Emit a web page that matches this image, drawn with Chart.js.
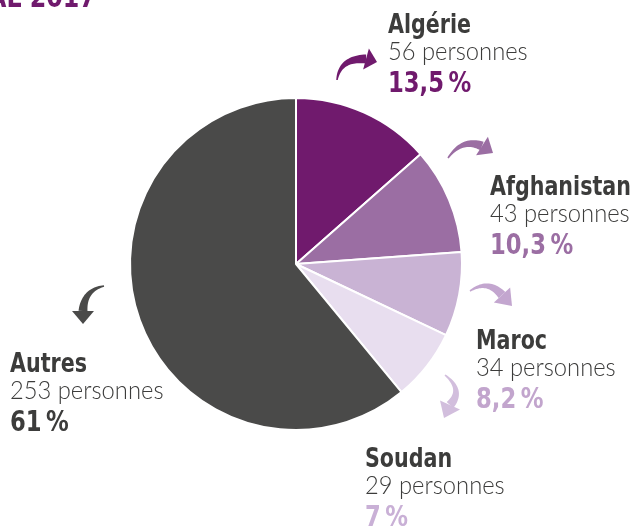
<!DOCTYPE html>
<html lang="fr">
<head>
<meta charset="utf-8">
<title>Répartition par nationalité</title>
<script src="https://cdn.jsdelivr.net/npm/chart.js@4.4.0/dist/chart.umd.min.js"></script>
<style>
  html, body { margin: 0; padding: 0; background: #ffffff; }
  #wrap { position: relative; width: 636px; height: 529px; overflow: hidden; }
</style>
</head>
<body>
<div id="wrap"><canvas id="pieChart"></canvas></div>
<script>
// nationalités, nombre de personnes, pourcentages affichés
const pays = ['Algérie', 'Afghanistan', 'Maroc', 'Soudan', 'Autres'];
const personnes = [56, 43, 34, 29, 253];
const pourcents = ['13,5\u202F%', '10,3\u202F%', '8,2\u202F%', '7\u202F%', '61\u202F%'];

const couleurs = ['#701a6d', '#9b6ea3', '#c9b3d4', '#e8deef', '#4a4a49'];
const couleursPct = ['#701a6d', '#9b6ea3', '#c2a5cd', '#c9b0d6', '#3c3c3b'];
const couleursFleche = ['#701a6d', '#9b6ea3', '#c3a6cf', '#d2bedd', '#4a4a49'];

const FONT = "'DejaVu Sans Condensed', 'Liberation Sans Narrow', sans-serif";
const LIGHT = "Lato, 'DejaVu Sans Condensed', sans-serif";
const TEXTE = '#3c3c3b';

// position des blocs de texte (x, ligne de base du nom) et des flèches
const blocs = [
    { x: 388, y: 33 },
    { x: 490, y: 195 },
    { x: 476, y: 349 },
    { x: 365, y: 467 },
    { x: 10,  y: 372 }
];
const fleches = [
    { tail: [337, 80],  ctrl: [340, 58],  end: [366, 59],  tip: [377, 62] },
    { tail: [448, 158], ctrl: [462, 138], end: [482, 146], tip: [493, 153] },
    { tail: [470, 291], ctrl: [488, 279], end: [502, 295], tip: [512, 306] },
    { tail: [445, 375], ctrl: [464, 390], end: [450, 405], tip: [444, 418] },
    { tail: [104, 286], ctrl: [84, 290],  end: [83, 311],  tip: [83, 324] }
];

function bez(p0, p1, p2, t) {
    const u = 1 - t;
    return [u*u*p0[0] + 2*u*t*p1[0] + t*t*p2[0], u*u*p0[1] + 2*u*t*p1[1] + t*t*p2[1]];
}

function drawArrow(ctx, f, color) {
    const N = 24;
    const left = [], right = [];
    for (let i = 0; i <= N; i++) {
        const t = i / N;
        const p = bez(f.tail, f.ctrl, f.end, t);
        const a = bez(f.tail, f.ctrl, f.end, Math.max(0, t - 0.01));
        const b = bez(f.tail, f.ctrl, f.end, Math.min(1, t + 0.01));
        let dx = b[0] - a[0], dy = b[1] - a[1];
        const len = Math.hypot(dx, dy) || 1;
        dx /= len; dy /= len;
        const w = (1.5 + 7.5 * t) / 2;
        left.push([p[0] - dy * w, p[1] + dx * w]);
        right.push([p[0] + dy * w, p[1] - dx * w]);
    }
    ctx.fillStyle = color;
    ctx.beginPath();
    ctx.moveTo(left[0][0], left[0][1]);
    left.forEach(p => ctx.lineTo(p[0], p[1]));
    right.reverse().forEach(p => ctx.lineTo(p[0], p[1]));
    ctx.closePath();
    ctx.fill();

    // pointe
    let dx = f.tip[0] - f.end[0], dy = f.tip[1] - f.end[1];
    const l = Math.hypot(dx, dy);
    dx /= l; dy /= l;
    const hw = 11;
    ctx.beginPath();
    ctx.moveTo(f.end[0] - dy * hw, f.end[1] + dx * hw);
    ctx.lineTo(f.tip[0], f.tip[1]);
    ctx.lineTo(f.end[0] + dy * hw, f.end[1] - dx * hw);
    ctx.closePath();
    ctx.fill();
}

// texte resserré horizontalement (police condensée)
function txt(ctx, s, x, y, sx) {
    ctx.save();
    ctx.translate(x, y);
    ctx.scale(sx, 1);
    ctx.fillText(s, 0, 0);
    ctx.restore();
}

const etiquettes = {
    id: 'etiquettes',
    afterDraw(chart) {
        const ctx = chart.ctx;
        ctx.save();
        ctx.textBaseline = 'alphabetic';
        ctx.textAlign = 'left';

        // titre (coupé en haut)
        ctx.fillStyle = '#701a6d';
        ctx.font = 'bold 30px ' + FONT;
        txt(ctx, 'AL 2017', -12, 7, 0.88);

        pays.forEach((nom, i) => {
            const b = blocs[i];
            ctx.fillStyle = TEXTE;
            ctx.font = 'bold 27px ' + FONT;
            txt(ctx, nom, b.x, b.y, 0.85);
            ctx.font = '300 25px ' + LIGHT;
            txt(ctx, personnes[i] + ' personnes', b.x, b.y + 27, 0.95);
            ctx.fillStyle = couleursPct[i];
            ctx.font = 'bold 29px ' + FONT;
            txt(ctx, pourcents[i], b.x, b.y + 59, 0.87);
            drawArrow(ctx, fleches[i], couleursFleche[i]);
        });
        ctx.restore();
    }
};

const ctx = document.getElementById('pieChart').getContext('2d');
new Chart(ctx, {
    type: 'pie',
    data: {
        labels: pays,
        datasets: [{
            data: personnes,
            backgroundColor: couleurs,
            borderColor: '#ffffff',
            borderWidth: 2,
            hoverOffset: 0
        }]
    },
    options: {
        responsive: true,
        maintainAspectRatio: false,
        animation: false,
        layout: { padding: { left: 129, top: 97, right: 173, bottom: 98 } },
        plugins: {
            legend: { display: false },
            tooltip: { enabled: false }
        }
    },
    plugins: [etiquettes]
});
</script>
</body>
</html>
